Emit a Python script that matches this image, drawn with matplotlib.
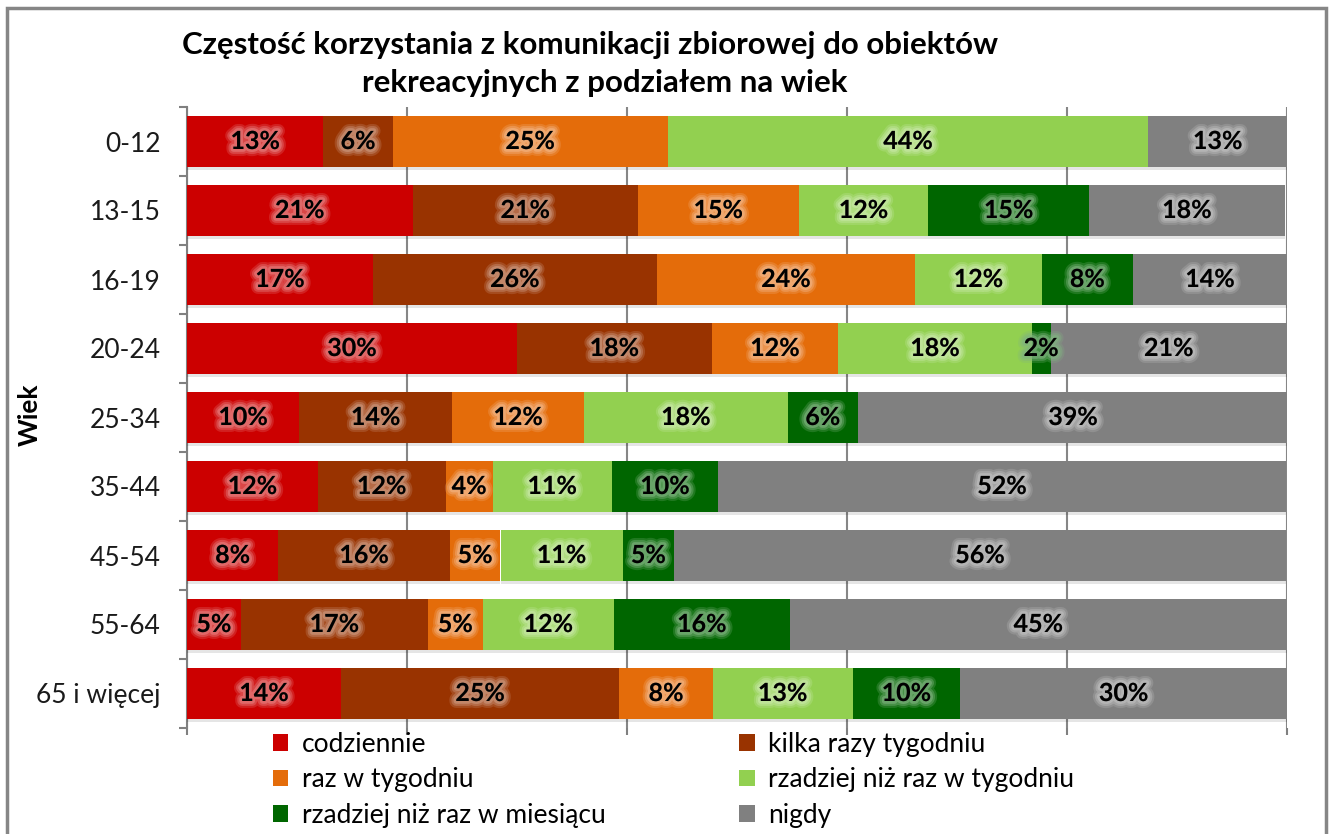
import matplotlib
matplotlib.use("Agg")
import matplotlib.pyplot as plt
import matplotlib.patheffects as pe
from matplotlib.colors import to_rgb
from matplotlib.patches import Rectangle, Patch
import numpy as np

plt.rcParams['font.family'] = ['Lato', 'DejaVu Sans']

categories = ['0-12', '13-15', '16-19', '20-24', '25-34', '35-44', '45-54', '55-64', '65 i więcej']
series_names = ['codziennie', 'kilka razy tygodniu', 'raz w tygodniu',
                'rzadziej niż raz w tygodniu', 'rzadziej niż raz w miesiącu', 'nigdy']
colors = ['#CC0000', '#993300', '#E46C0A', '#92D050', '#006600', '#808080']

codziennie = [12.4, 20.5, 16.9, 30.0, 10.2, 11.9, 8.3, 4.9, 14.0]
kilka_razy = [6.3, 20.5, 25.8, 17.7, 13.9, 11.6, 15.6, 17.0, 25.3]
raz_w_tyg = [25.0, 14.6, 23.5, 11.5, 12.0, 4.3, 4.6, 5.0, 8.5]
rzadziej_tyg = [43.7, 11.8, 11.5, 17.6, 18.5, 10.8, 11.1, 11.9, 12.7]
rzadziej_mies = [0.0, 14.6, 8.3, 1.7, 6.4, 9.7, 4.7, 16.0, 9.8]
nigdy = [12.6, 17.8, 14.0, 21.5, 39.1, 51.6, 55.6, 45.2, 29.7]
labels_shown = [
    [13, 21, 17, 30, 10, 12, 8, 5, 14],
    [6, 21, 26, 18, 14, 12, 16, 17, 25],
    [25, 15, 24, 12, 12, 4, 5, 5, 8],
    [44, 12, 12, 18, 18, 11, 11, 12, 13],
    [None, 15, 8, 2, 6, 10, 5, 16, 10],
    [13, 18, 14, 21, 39, 52, 56, 45, 30],
]
series = [codziennie, kilka_razy, raz_w_tyg, rzadziej_tyg, rzadziej_mies, nigdy]

fig = plt.figure(figsize=(13.35, 8.34), dpi=100)
ax = fig.add_axes([187/1335, 1-728/834, 1100/1335, (728-107)/834])

y = np.arange(len(categories))
left = np.zeros(len(categories))
for i, (vals, col, name) in enumerate(zip(series, colors, series_names)):
    vals = np.array(vals)
    bars = ax.barh(y, vals, left=left, height=0.75, color=col, zorder=3,
                   edgecolor='none')
    for b in bars:
        b.set_path_effects([pe.SimplePatchShadow(offset=(0, -2), shadow_rgbFace='black', alpha=0.10),
                            pe.Normal()])
    rgb = np.array(to_rgb(col))
    glow = tuple(rgb + (1 - rgb) * 0.5)
    for j in range(len(categories)):
        lab = labels_shown[i][j]
        if lab is None:
            continue
        ax.text(left[j] + vals[j] / 2, y[j], f'{lab}%', ha='center', va='center',
                fontsize=18, fontweight='bold', color='black', zorder=5,
                path_effects=[pe.withStroke(linewidth=10, foreground=glow, alpha=0.25),
                              pe.withStroke(linewidth=7, foreground=glow, alpha=0.4),
                              pe.withStroke(linewidth=4, foreground=glow, alpha=0.6)])
    left += vals

ax.set_xlim(0, 100)
ax.set_ylim(len(categories) - 0.5, -0.5)
ax.set_xticks([0, 20, 40, 60, 80, 100])
ax.set_xticklabels([])
ax.tick_params(axis='x', length=5, width=1.5, color='#808080', direction='out')
ax.grid(axis='x', color='#868686', linewidth=1.5, zorder=0)
ax.set_yticks(y)
ax.set_yticklabels(categories, fontsize=19, color='#1a1a1a')
ax.set_yticks(np.arange(len(categories) + 1) - 0.5, minor=True)
ax.tick_params(axis='y', which='major', length=0, pad=19)
ax.tick_params(axis='y', which='minor', length=6, width=1.5, color='#808080')
for s in ['top', 'right', 'bottom']:
    ax.spines[s].set_visible(False)
ax.spines['left'].set_color('#808080')
ax.spines['left'].set_linewidth(1.5)
fig.text(30/1335, 1-415/834, 'Wiek', rotation=90, ha='center', va='center',
         fontsize=19, fontweight='bold')

fig.text(590/1335, 1-45/834, 'Częstość korzystania z komunikacji zbiorowej do obiektów',
         ha='center', va='center', fontsize=22.5, fontweight='bold')
fig.text(605/1335, 1-83/834, 'rekreacyjnych z podziałem na wiek',
         ha='center', va='center', fontsize=22.5, fontweight='bold')

# legend (two columns, row-wise order)
order = [0, 2, 4, 1, 3, 5]
handles = [Patch(facecolor=colors[k], edgecolor='none') for k in order]
labs = [series_names[k] for k in order]
leg = fig.legend(handles, labs, ncol=2,
                 loc='upper left', bbox_to_anchor=(270/1335, 1-729/834),
                 frameon=False, fontsize=19, handlelength=0.6, handleheight=0.6,
                 handletextpad=0.5, columnspacing=5.05, labelspacing=0.4,
                 borderaxespad=0, borderpad=0.1)

fig.patches.append(Rectangle((7/1335, -0.02), 1319/1335, 1 - 8/834 + 0.02,
                             transform=fig.transFigure, fill=False,
                             edgecolor='#868686', linewidth=2.5))

fig.savefig('out.png', dpi=100)
